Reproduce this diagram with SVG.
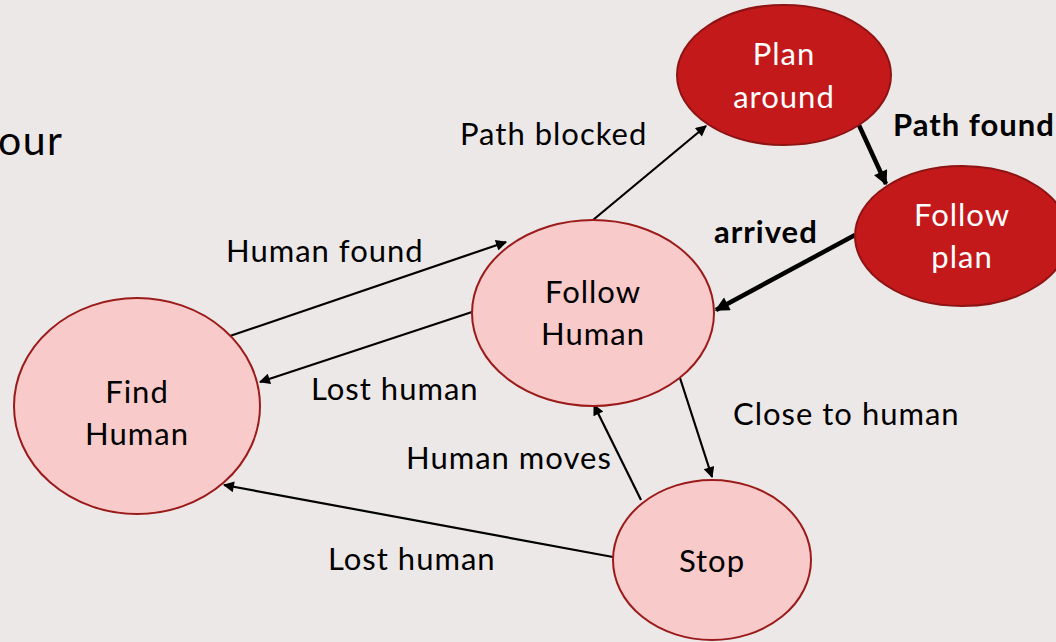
<svg xmlns="http://www.w3.org/2000/svg" width="1056" height="642" viewBox="0 0 1056 642">
  <defs>
    <marker id="ah" viewBox="0 0 10 10" refX="9" refY="5" markerWidth="6" markerHeight="5" markerUnits="strokeWidth" orient="auto">
      <path d="M0,0 L10,5 L0,10 z" fill="#000"/>
    </marker>
    <marker id="ahb" viewBox="0 0 10 10" refX="9" refY="5" markerWidth="3.6" markerHeight="3.2" markerUnits="strokeWidth" orient="auto">
      <path d="M0,0 L10,5 L0,10 z" fill="#000"/>
    </marker>
    <style>
      text { font-family: Lato, "Open Sans", "Liberation Sans", sans-serif; font-size: 31px; letter-spacing: 1px; fill: #000; }
      .light { fill: #f8caca; stroke: #9b1b1b; stroke-width: 2; }
      .dark { fill: #c4191b; stroke: #8e1313; stroke-width: 2; }
      .in { text-anchor: middle; }
      .w { fill: #fff; }
      .b { font-weight: bold; }
      .thin { stroke: #000; stroke-width: 2.2; fill: none; marker-end: url(#ah); }
      .thick { stroke: #000; stroke-width: 4.5; fill: none; marker-end: url(#ahb); }
    </style>
  </defs>
  <rect width="1056" height="642" fill="#ede8e8"/>
  <text x="-2" y="155" style="font-size:41px;letter-spacing:1.5px">our</text>

  <g id="connectors">
    <line class="thin" x1="593" y1="220" x2="706" y2="126"/>
    <line class="thick" x1="858" y1="123" x2="886" y2="184"/>
    <line class="thick" x1="855" y1="235" x2="716" y2="310"/>
    <line class="thin" x1="224" y1="338" x2="506" y2="242"/>
    <line class="thin" x1="472" y1="312" x2="260" y2="382"/>
    <line class="thin" x1="680" y1="378" x2="712" y2="477"/>
    <line class="thin" x1="641" y1="500" x2="594" y2="405"/>
    <line class="thin" x1="613" y1="557" x2="224" y2="485"/>
  </g>

  <g id="labels">
    <text x="460" y="145">Path blocked</text>
    <text class="b" x="893" y="136">Path found</text>
    <text class="b" x="714" y="243">arrived</text>
    <text x="226" y="262">Human found</text>
    <text x="311" y="400">Lost human</text>
    <text x="733" y="425">Close to human</text>
    <text x="406" y="469">Human moves</text>
    <text x="328" y="570">Lost human</text>
  </g>

  <g id="plan-around">
    <ellipse class="dark" cx="784" cy="75" rx="107" ry="70"/>
    <text class="in w" x="784" y="65">Plan</text>
    <text class="in w" x="784" y="108">around</text>
  </g>
  <g id="follow-plan">
    <ellipse class="dark" cx="962" cy="236" rx="107" ry="70"/>
    <text class="in w" x="962" y="226">Follow</text>
    <text class="in w" x="962" y="268">plan</text>
  </g>
  <g id="follow-human">
    <ellipse class="light" cx="593" cy="313" rx="121" ry="93"/>
    <text class="in" x="593" y="303">Follow</text>
    <text class="in" x="593" y="345">Human</text>
  </g>
  <g id="find-human">
    <ellipse class="light" cx="137" cy="406" rx="123" ry="108"/>
    <text class="in" x="137" y="403">Find</text>
    <text class="in" x="137" y="445">Human</text>
  </g>
  <g id="stop">
    <ellipse class="light" cx="712" cy="560" rx="99" ry="80"/>
    <text class="in" x="712" y="572">Stop</text>
  </g>
</svg>
